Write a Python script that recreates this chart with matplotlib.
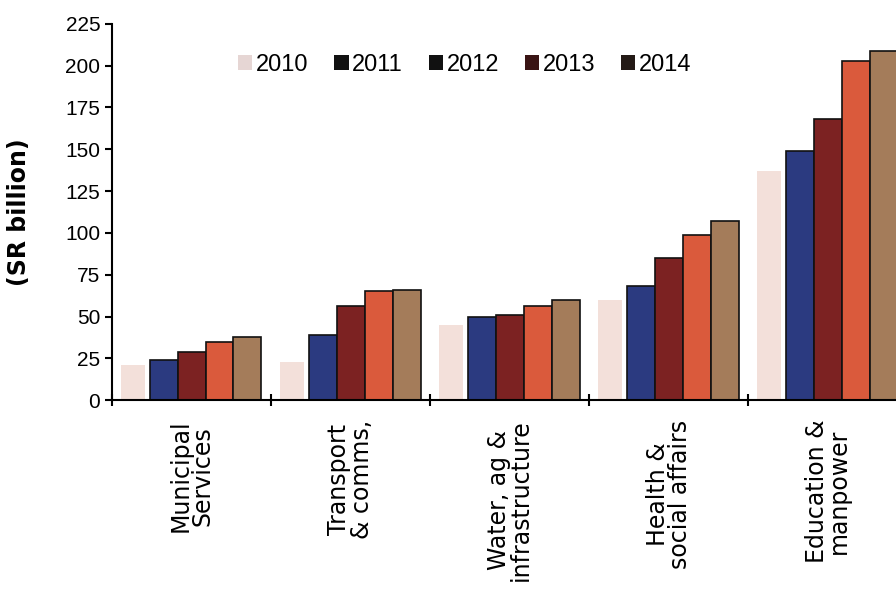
import matplotlib.pyplot as plt
import numpy as np
from matplotlib.patches import Patch

plt.rcParams['font.family'] = ['Liberation Sans', 'DejaVu Sans']

# Daten (SR billion)
categories = ["Municipal\nServices", "Transport\n& comms,", "Water, ag &\ninfrastructure",
              "Health &\nsocial affairs", "Education &\nmanpower"]
years = ["2010", "2011", "2012", "2013", "2014"]
values_2010 = [21, 23, 45, 60, 137]
values_2011 = [24, 39, 50, 68, 149]
values_2012 = [29, 56, 51, 85, 168]
values_2013 = [35, 65, 56, 99, 203]
values_2014 = [38, 66, 60, 107, 209]

series = [values_2010, values_2011, values_2012, values_2013, values_2014]
colors = ['#f3e0da', '#2b3a80', '#7c2222', '#da5a3c', '#a47c5a']
edges = ['none', '#111111', '#111111', '#111111', '#111111']
legend_colors = ['#e6d6d4', '#111111', '#111111', '#3a1414', '#241a16']
offsets = [-0.37, -0.176, 0.0, 0.176, 0.352]
widths = [0.15, 0.176, 0.176, 0.176, 0.176]

fig = plt.figure(figsize=(8.96, 6.10), dpi=100)
ax = fig.add_axes([0.125, 0.344, 0.875, 0.617])

x = np.arange(len(categories))
for vals, col, ec, off, w in zip(series, colors, edges, offsets, widths):
    ax.bar(x + off, vals, width=w, color=col, edgecolor=ec, linewidth=1.2)

ax.set_xlim(-0.5, 4.43)
ax.set_ylim(0, 225)
ax.set_yticks(np.arange(0, 226, 25))
ax.tick_params(axis='y', labelsize=15, length=5, width=1.5)

ax.set_xticks(x)
ax.set_xticklabels(categories, rotation=90, fontsize=17, linespacing=0.9, family='DejaVu Sans')
ax.set_xticks(np.arange(-0.5, 4.0, 1.0), minor=True)
ax.tick_params(axis='x', which='major', length=0, pad=14)
ax.tick_params(axis='x', which='minor', length=8, width=1.5, direction='inout')

for s in ['top', 'right']:
    ax.spines[s].set_visible(False)
for s in ['left', 'bottom']:
    ax.spines[s].set_linewidth(1.5)

ax.set_ylabel("(SR billion)", fontsize=17, fontweight='bold', family='DejaVu Sans')
ax.yaxis.set_label_coords(-0.103, 0.5)

handles = [Patch(facecolor=c, edgecolor='none') for c in legend_colors]
ax.legend(handles, years, loc='center', bbox_to_anchor=(0.45, 0.89), ncol=5, frameon=False,
          fontsize=17, handlelength=0.6, handleheight=0.6, handletextpad=0.15, columnspacing=1.1)

plt.savefig('out.png', dpi=100)
